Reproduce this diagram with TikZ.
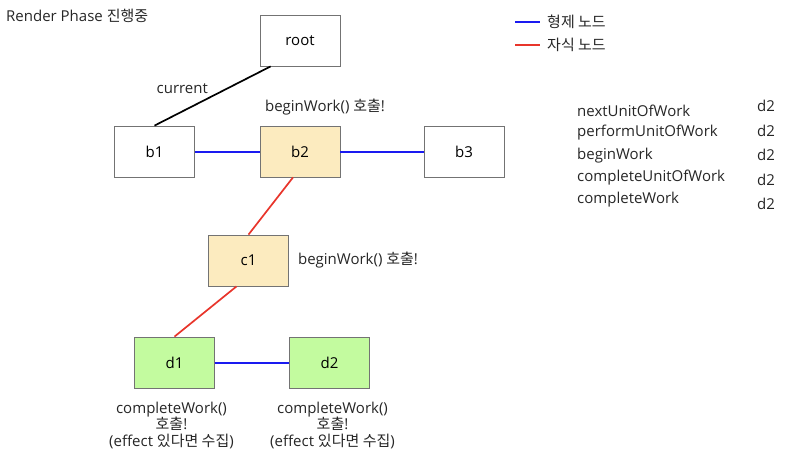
\documentclass[tikz,border=0pt]{standalone}
\usepackage{fontspec}
\setmainfont{Open Sans}
\newfontfamily\kr{Noto Sans CJK KR}
\usetikzlibrary{positioning}
\definecolor{sibblue}{HTML}{1A1AF0}
\definecolor{kidred}{HTML}{E8352B}
\definecolor{curfill}{HTML}{FCEBBF}
\definecolor{donefill}{HTML}{C3FB9F}
\tikzstyle{fiber}=[draw=black!55,line width=0.8pt,minimum width=80pt,minimum height=51pt,font=\fontsize{15}{17}\selectfont]
\tikzstyle{cur}=[fiber,fill=curfill]
\tikzstyle{done}=[fiber,fill=donefill]
\tikzstyle{sib}=[draw=sibblue,line width=2pt]
\tikzstyle{kid}=[draw=kidred,line width=1.7pt]
\tikzstyle{txt}=[text=black!85,font=\fontsize{15}{16.5}\selectfont,inner sep=0pt]

\begin{document}
\begin{tikzpicture}[x=1pt,y=-1pt]
  \useasboundingbox (0,0) rectangle (800,463);
  \node[txt,anchor=west] (title) at (6,16) {Render Phase {\kr 진행중}};
  % fiber tree
  \node[fiber] (root) at (300,40.5) {root};
  \node[fiber] (b1) at (154.5,151.5) {b1};
  \node[cur] (b2) at (300,151.5) {b2};
  \node[fiber] (b3) at (464,151.5) {b3};
  \node[cur] (c1) at (248.5,260.5) {c1};
  \node[done] (d1) at (174.5,362.5) {d1};
  \node[done] (d2) at (329.5,362.5) {d2};
  \draw[black,line width=1.7pt] ([xshift=11pt]root.south west) -- (b1.north)
    node[txt,pos=0.55,above left=4pt and -2pt] (curlbl) {current};
  \draw[sib] (b1) -- (b2);
  \draw[sib] (b2) -- (b3);
  \draw[sib] (d1) -- (d2);
  \draw[kid] ([xshift=-7pt]b2.south) -- (c1.north);
  \draw[kid] ([xshift=-12pt]c1.south) -- (d1.north);
  % call notes
  \node[txt,above=10pt of b2.north,xshift=25pt] (b2note) {beginWork() {\kr 호출}!};
  \node[txt,right=9pt of c1] (c1note) {beginWork() {\kr 호출}!};
  \node[txt,align=center,below=13pt of d1.south,xshift=-3pt] (d1note) {completeWork()\\{\kr 호출}!\\(effect {\kr 있다면 수집})};
  \node[txt,align=center,below=13pt of d2.south,xshift=3pt] (d2note) {completeWork()\\{\kr 호출}!\\(effect {\kr 있다면 수집})};
  % legend
  \node[txt,anchor=west] (lsib) at (547,22) {\kr 형제 노드};
  \node[txt,anchor=west] (lkid) at (547,45) {\kr 자식 노드};
  \draw[sib] (515,22) -- (540,22);
  \draw[kid,line width=1.3pt] (515,45) -- (540,45);
  % work loop state
  \foreach \name/\ya/\yb [count=\i] in {nextUnitOfWork/111/106, performUnitOfWork/133/131, beginWork/156/155, completeUnitOfWork/178/180, completeWork/200/204} {
    \node[txt,anchor=west] (fn\i) at (577,\ya) {\name};
    \node[txt,anchor=west] (val\i) at (757,\yb) {d2};
  };
\end{tikzpicture}
\end{document}
